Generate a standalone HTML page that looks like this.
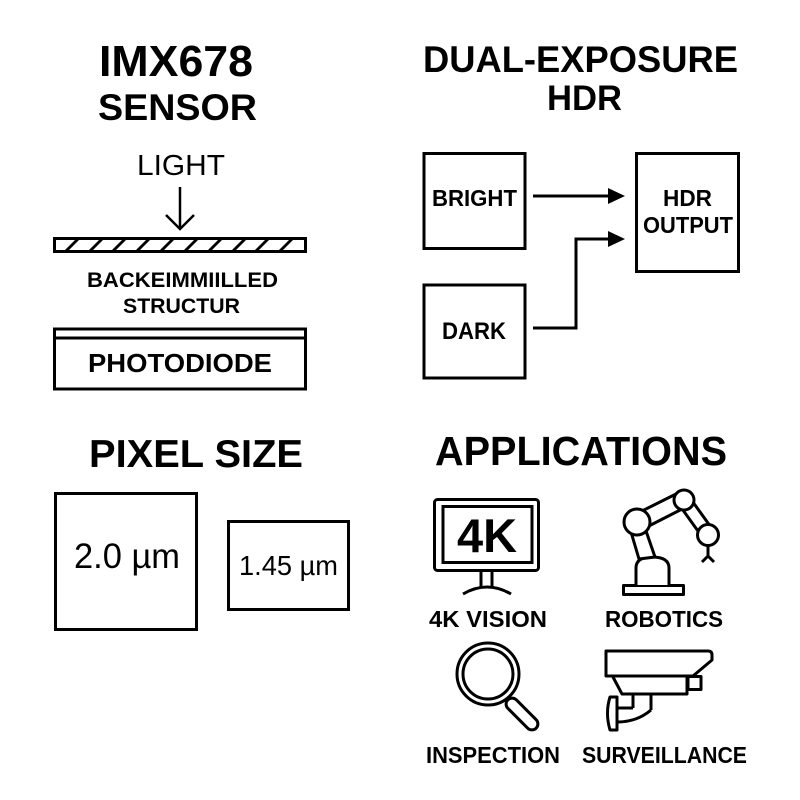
<!DOCTYPE html>
<html>
<head>
<meta charset="utf-8">
<style>
html,body{margin:0;padding:0;background:#fff;}
svg{display:block;}
text{font-family:"Liberation Sans",Arial,sans-serif;fill:#000;}
.b{font-weight:bold;}
</style>
</head>
<body>
<svg width="800" height="800" viewBox="0 0 800 800" xmlns="http://www.w3.org/2000/svg">
<rect width="800" height="800" fill="#fff"/>

<!-- IMX678 SENSOR -->
<text class="b" x="99" y="76" font-size="44" textLength="154" lengthAdjust="spacingAndGlyphs">IMX678</text>
<text class="b" x="98" y="120" font-size="37" textLength="159" lengthAdjust="spacingAndGlyphs">SENSOR</text>
<text x="137" y="175" font-size="29" textLength="88" lengthAdjust="spacingAndGlyphs">LIGHT</text>
<g stroke="#000" stroke-width="2.5" fill="none">
  <line x1="180" y1="187" x2="180" y2="228"/>
  <polyline points="166,215 180,229 194,215"/>
</g>
<rect x="54.5" y="238.5" width="251" height="13" fill="none" stroke="#000" stroke-width="3"/>
<g stroke="#000" stroke-width="2.8">
  <line x1="66" y1="251" x2="78" y2="239"/>
  <line x1="90" y1="251" x2="102" y2="239"/>
  <line x1="113" y1="251" x2="125" y2="239"/>
  <line x1="137" y1="251" x2="149" y2="239"/>
  <line x1="161" y1="251" x2="173" y2="239"/>
  <line x1="185" y1="251" x2="197" y2="239"/>
  <line x1="209" y1="251" x2="221" y2="239"/>
  <line x1="233" y1="251" x2="245" y2="239"/>
  <line x1="256" y1="251" x2="268" y2="239"/>
  <line x1="280" y1="251" x2="292" y2="239"/>
</g>
<text class="b" x="87" y="287" font-size="21" textLength="191" lengthAdjust="spacingAndGlyphs">BACKEIMMIILLED</text>
<text class="b" x="123" y="313" font-size="21" textLength="117" lengthAdjust="spacingAndGlyphs">STRUCTUR</text>
<rect x="54.5" y="329" width="251" height="60" fill="none" stroke="#000" stroke-width="3"/>
<line x1="54.5" y1="338" x2="305.5" y2="338" stroke="#000" stroke-width="3"/>
<text class="b" x="88" y="372" font-size="26" textLength="184" lengthAdjust="spacingAndGlyphs">PHOTODIODE</text>

<!-- DUAL-EXPOSURE HDR -->
<text class="b" x="423" y="72" font-size="37" textLength="315" lengthAdjust="spacingAndGlyphs">DUAL-EXPOSURE</text>
<text class="b" x="547" y="110" font-size="35" textLength="75" lengthAdjust="spacingAndGlyphs">HDR</text>
<rect x="424" y="153.5" width="101" height="95" fill="none" stroke="#000" stroke-width="3"/>
<text class="b" x="432" y="206" font-size="23" textLength="85" lengthAdjust="spacingAndGlyphs">BRIGHT</text>
<rect x="424" y="285" width="101" height="93" fill="none" stroke="#000" stroke-width="3"/>
<text class="b" x="442" y="339" font-size="24" textLength="64" lengthAdjust="spacingAndGlyphs">DARK</text>
<rect x="636.5" y="153.5" width="102" height="118" fill="none" stroke="#000" stroke-width="3"/>
<text class="b" x="663" y="206" font-size="23" textLength="49" lengthAdjust="spacingAndGlyphs">HDR</text>
<text class="b" x="643" y="233" font-size="23" textLength="90" lengthAdjust="spacingAndGlyphs">OUTPUT</text>
<g stroke="#000" stroke-width="3" fill="none">
  <line x1="533" y1="196" x2="610" y2="196"/>
  <polyline points="533,328 576,328 576,239 610,239"/>
</g>
<polygon points="608,188 625,196 608,204" fill="#000"/>
<polygon points="608,231 625,239 608,247" fill="#000"/>

<!-- PIXEL SIZE -->
<text class="b" x="89" y="467" font-size="39" textLength="214" lengthAdjust="spacingAndGlyphs">PIXEL SIZE</text>
<rect x="55.5" y="493.5" width="141" height="136" fill="none" stroke="#000" stroke-width="3"/>
<text x="74" y="568" font-size="35" textLength="106" lengthAdjust="spacingAndGlyphs">2.0 µm</text>
<rect x="228.5" y="521.5" width="120" height="88" fill="none" stroke="#000" stroke-width="3"/>
<text x="239" y="575" font-size="28" textLength="99" lengthAdjust="spacingAndGlyphs">1.45 µm</text>

<!-- APPLICATIONS -->
<text class="b" x="435" y="465" font-size="41" textLength="292" lengthAdjust="spacingAndGlyphs">APPLICATIONS</text>

<!-- monitor -->
<g stroke="#000" stroke-width="3" fill="none">
  <rect x="434.5" y="499.5" width="104" height="71" rx="3"/>
  <rect x="443" y="506.5" width="89" height="56"/>
  <line x1="481" y1="571" x2="481" y2="588"/>
  <line x1="492" y1="571" x2="492" y2="588"/>
  <path d="M463,594 Q487,580 511,594"/>
</g>
<text class="b" x="457" y="552" font-size="47" textLength="60" lengthAdjust="spacingAndGlyphs">4K</text>
<text class="b" x="429" y="627" font-size="23" textLength="118" lengthAdjust="spacingAndGlyphs">4K VISION</text>

<!-- robot -->
<g stroke="#000" stroke-width="3" fill="#fff" stroke-linejoin="round">
  <rect x="623.5" y="585.5" width="60" height="9"/>
  <path d="M636,585 L636,568 Q636,557 652,557 Q669,557 669,568 L669,585"/>
  <polygon points="639,559 655,557 645,528 631,532"/>
  <polygon points="632,516 678,493 686,507 641,530"/>
  <polygon points="680,506 690,498 713,530 703,538"/>
  <circle cx="637" cy="522" r="13"/>
  <circle cx="684" cy="500" r="10"/>
  <circle cx="708" cy="535" r="10.5"/>
  <line x1="708" y1="546" x2="708" y2="556"/>
  <polyline points="702,562 708,556 714,562" fill="none"/>
</g>
<text class="b" x="605" y="627" font-size="23" textLength="118" lengthAdjust="spacingAndGlyphs">ROBOTICS</text>

<!-- magnifier -->
<g stroke="#000" stroke-width="3" fill="none">
  <circle cx="488" cy="674" r="31"/>
  <circle cx="488" cy="674" r="25"/>
  <rect x="-6" y="-20" width="12" height="40" rx="6" transform="translate(522,714) rotate(-45)" fill="#fff"/>
</g>
<text class="b" x="426" y="763" font-size="23" textLength="134" lengthAdjust="spacingAndGlyphs">INSPECTION</text>

<!-- camera -->
<g stroke="#000" stroke-width="3" fill="none" stroke-linejoin="round">
  <path d="M606,651 L708,651 Q712,651 712,655 L712,660 L693,676 L606,676 Z"/>
  <path d="M613,677 L622,694 L687,694 L687,677"/>
  <rect x="688" y="676.5" width="13" height="13"/>
  <line x1="633" y1="694" x2="633" y2="708"/>
  <line x1="651" y1="694" x2="651" y2="710"/>
  <path d="M617,708 L633,708"/>
  <path d="M617,722 Q637,722 651,710"/>
  <path d="M617,697 L617,730 L610,730 Q605,713 610,697 Z"/>
</g>
<text class="b" x="582" y="763" font-size="23" textLength="165" lengthAdjust="spacingAndGlyphs">SURVEILLANCE</text>
</svg>
</body>
</html>
